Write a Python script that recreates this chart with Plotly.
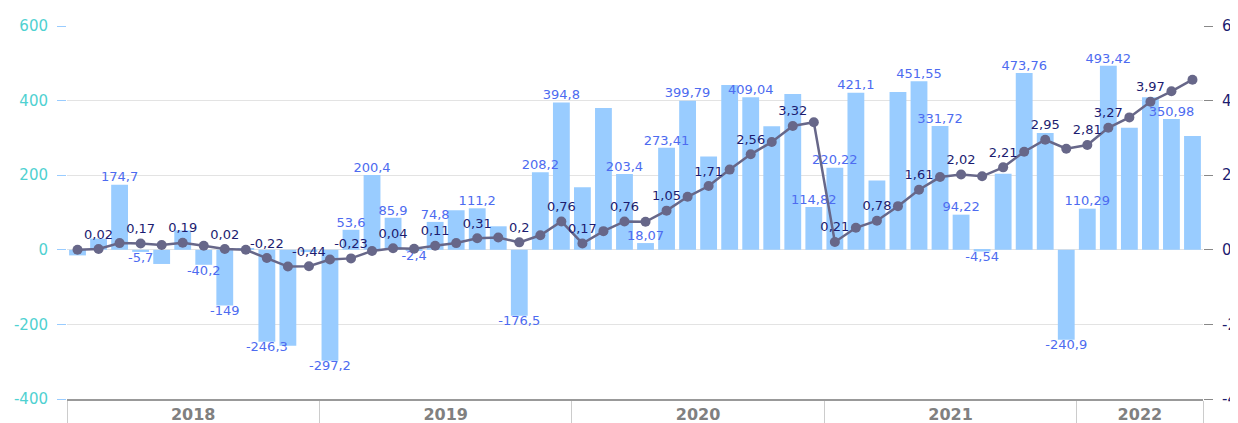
import plotly.graph_objects as go

# monthly values, Jan 2018 .. Jun 2022
months = [f"{y}-{m:02d}" for y in range(2018, 2023) for m in range(1, 13)][:54]

bar_values = [-15, 30, 174.7, -5.7, -38, 52, -40.2, -149, 3, -246.3, -257, -6,
              -297.2, 53.6, 200.4, 85.9, -2.4, 74.8, 106, 111.2, 63, -176.5, 208.2, 394.8,
              168, 380, 203.4, 18.07, 273.41, 399.79, 250, 442, 409.04, 331, 418, 114.82,
              220.22, 421.1, 186, 423, 451.55, 331.72, 94.22, -4.54, 204, 473.76, 313, -240.9,
              110.29, 493.42, 327, 409, 350.98, 305]

line_values = [0.00, 0.02, 0.18, 0.17, 0.13, 0.19, 0.11, 0.02, 0.00, -0.22, -0.45, -0.44,
               -0.26, -0.23, -0.03, 0.04, 0.03, 0.11, 0.18, 0.31, 0.33, 0.2, 0.39, 0.76,
               0.17, 0.5, 0.76, 0.75, 1.05, 1.42, 1.71, 2.15, 2.56, 2.89, 3.32, 3.42,
               0.21, 0.59, 0.78, 1.17, 1.61, 1.95, 2.02, 1.97, 2.21, 2.63, 2.95, 2.71,
               2.81, 3.27, 3.55, 3.97, 4.25, 4.56]

# which points carry a visible label (1-based month number)
bar_label_months = {3, 4, 7, 8, 10, 13, 14, 15, 16, 17, 18, 20, 22, 23, 24, 27, 28, 29, 30,
                    33, 36, 37, 38, 41, 42, 43, 44, 46, 48, 49, 50, 53}
line_label_months = {2, 4, 6, 8, 10, 12, 14, 16, 18, 20, 22, 24, 25, 27, 29, 31, 33, 35, 37,
                     39, 41, 43, 45, 47, 49, 50, 52}

left_ticks = [-400, -200, 0, 200, 400, 600]
right_ticks = [-4, -2, 0, 2, 4, 6]


def fmt(v):
    return f"{v:g}".replace(".", ",")


x = list(range(len(months)))
years = [m[:4] for m in months]
year_names = sorted(set(years))
year_centers = [sum(i for i, y in enumerate(years) if y == yr) / years.count(yr) for yr in year_names]
year_bounds = [years.index(yr) - 0.5 for yr in year_names] + [len(months) - 0.5]

bar_text = [fmt(v) if i + 1 in bar_label_months else "" for i, v in enumerate(bar_values)]
bar_text_pos = ["top center" if v >= 0 else "bottom center" for v in bar_values]
line_text = [fmt(v) if i + 1 in line_label_months else "" for i, v in enumerate(line_values)]

fig = go.Figure()

fig.add_trace(go.Bar(
    x=x, y=bar_values,
    marker=dict(color="#99ccff", line=dict(width=0)),
    hovertext=months,
))

# bar value labels as a separate text layer so neighbouring bars don't cover them
fig.add_trace(go.Scatter(
    x=x, y=bar_values, mode="text",
    text=bar_text, textposition=bar_text_pos,
    textfont=dict(family="DejaVu Sans", size=13, color="#4d6bf0"),
    cliponaxis=False, hoverinfo="skip",
))

fig.add_trace(go.Scatter(
    x=x, y=line_values, yaxis="y2",
    mode="lines+markers+text",
    line=dict(color="#676789", width=2.5),
    marker=dict(color="#676789", size=10),
    text=line_text, textposition="top center",
    textfont=dict(family="DejaVu Sans", size=13, color="#1c1c70"),
    cliponaxis=False,
    hovertext=months,
))

# page body adds an 8px offset, so the figure is a bit smaller than the window
fig.update_layout(
    width=1230, height=415,
    margin=dict(l=59, r=35, t=18, b=24),
    plot_bgcolor="white", paper_bgcolor="white",
    showlegend=False,
    bargap=0.2,
    font=dict(family="DejaVu Sans"),
    xaxis=dict(
        range=[-0.5, len(months) - 0.5], automargin=False,
        tickmode="array", tickvals=year_centers, ticktext=year_names,
        ticks="", showgrid=False, zeroline=False,
        tickfont=dict(size=16, color="#808080", family="DejaVu Sans", weight="bold"),
        showline=True, linecolor="#999999", linewidth=1.5,
        minor=dict(tickmode="array", tickvals=year_bounds, ticks="outside",
                   ticklen=24, tickcolor="#cccccc", tickwidth=1, showgrid=False),
    ),
    yaxis=dict(
        range=[-400, 600], automargin=False,
        tickmode="array", tickvals=left_ticks, ticktext=[str(t) for t in left_ticks],
        gridcolor="#e3e3e3", gridwidth=1, zeroline=False,
        ticks="outside", ticklen=9, tickcolor="#99ccff", tickwidth=1,
        ticklabelstandoff=6,
        tickfont=dict(size=15, color="#4fd1d1"),
    ),
    yaxis2=dict(
        range=[-4, 6], overlaying="y", side="right", automargin=False,
        tickmode="array", tickvals=right_ticks, ticktext=[str(t) for t in right_ticks],
        showgrid=False, zeroline=False,
        ticks="outside", ticklen=9, tickcolor="#888888", tickwidth=1,
        ticklabelstandoff=6,
        tickfont=dict(size=15, color="#1c1c70"),
    ),
)

fig.write_html("out.html")
